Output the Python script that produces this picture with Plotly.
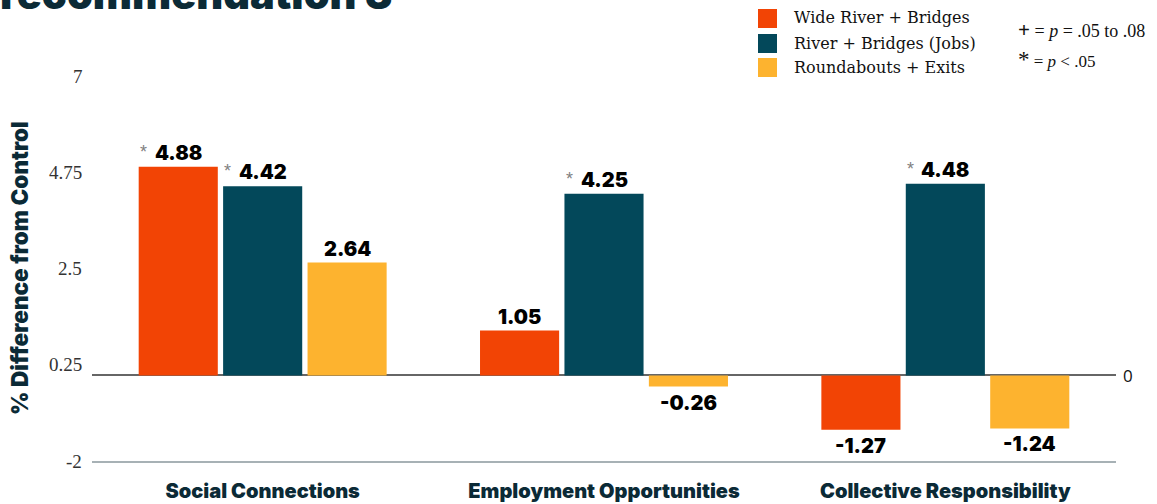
import plotly.graph_objects as go

categories = ["Social Connections", "Employment Opportunities", "Collective Responsibility"]
series_names = ["Wide River + Bridges", "River + Bridges (Jobs)", "Roundabouts + Exits"]
wide_river = [4.88, 1.05, -1.27]
river_jobs = [4.42, 4.25, 4.48]
roundabouts = [2.64, -0.26, -1.24]
stars = [[True, False, False], [True, True, True], [False, False, False]]
colors = ["#F24405", "#03485A", "#FDB32F"]
y_ticks = [-2, 0.25, 2.5, 4.75, 7]

NAVY = "#0B2A36"
BOLD = "Inter"
SERIF = "DejaVu Serif"
TICKSERIF = "Liberation Serif"
TICKSIZE = 19

bargap = 0.258
bargroupgap = 0.063

W, H = 1157, 504
L, R, T, B = 92, 41, 76, 43
pw, ph = W - L - R, H - T - B


def px2paper(px, py):
    return (px - L) / pw, (H - B - py) / ph


def est_width(s, size):
    w = 0.0
    for ch in s:
        if ch == ".":
            w += 0.25 * size
        elif ch == "-":
            w += 0.33 * size
        else:
            w += 0.5 * size
    return w


fig = go.Figure()
all_series = [wide_river, river_jobs, roundabouts]
for name, vals, col in zip(series_names, all_series, colors):
    fig.add_trace(go.Bar(x=categories, y=vals, name=name, marker=dict(color=col, line=dict(width=0)),
                         showlegend=False, hoverinfo="skip"))

slot = (1 - bargap) / 3
annotations = []
for si, vals in enumerate(all_series):
    off = (si - 1) * slot
    for ci, v in enumerate(vals):
        xpos = ci + off
        annotations.append(dict(x=xpos, y=v, xref="x", yref="y", text=f"{v:.2f}", showarrow=False,
                                xanchor="center", yanchor="middle", yshift=14 if v >= 0 else -16,
                                font=dict(family=BOLD, size=20, color="#000000", weight=900)))
        if stars[si][ci]:
            annotations.append(dict(x=xpos, y=v, xref="x", yref="y", text="*", showarrow=False,
                                    xanchor="center", yanchor="middle", xshift=-35, yshift=15,
                                    font=dict(family="Liberation Sans", size=18, color="#808080")))

# y tick labels (right-aligned ~10px left of the plot area)
for t in y_ticks:
    s = "%g" % t
    annotations.append(dict(x=0, y=t, xref="paper", yref="y", text=s, showarrow=False,
                            xanchor="left", yanchor="middle", xshift=-(12 + est_width(s, TICKSIZE)),
                            font=dict(family=TICKSERIF, size=TICKSIZE, color="#333333")))

# zero label on right
annotations.append(dict(x=1, y=0, xref="paper", yref="y", text="0", showarrow=False, xanchor="left",
                        yanchor="middle", xshift=5, font=dict(family="Open Sans", size=17, color="#111111")))

# y title
x, y = px2paper(19, 268)
annotations.append(dict(x=x, y=y, xref="paper", yref="paper", text="% Difference from Control",
                        showarrow=False, textangle=-90, xanchor="center", yanchor="middle",
                        font=dict(family=BOLD, size=22.5, color=NAVY, weight=900)))

# legend (manual)
leg_y = [18, 43, 67]
shapes = []
for i, (name, col) in enumerate(zip(series_names, colors)):
    x0, y0 = px2paper(758, leg_y[i] + 10)
    x1, y1 = px2paper(777, leg_y[i] - 9)
    shapes.append(dict(type="rect", xref="paper", yref="paper", layer="above",
                       x0=x0, x1=x1, y0=y0, y1=y1, fillcolor=col, line=dict(width=0)))
    tx, ty = px2paper(792, leg_y[i])
    annotations.append(dict(text=name, showarrow=False, xanchor="left", yanchor="middle",
                            font=dict(family=SERIF, size=16, color="#111111"), xref="paper", yref="paper",
                            x=tx, y=ty))

# title (cut off at top, as in the reference)
tx, ty = px2paper(-2, 21)
annotations.append(dict(text="recommendation 3", showarrow=False, xanchor="left", yanchor="bottom",
                        font=dict(family=BOLD, size=41.5, color=NAVY, weight=900), xref="paper", yref="paper",
                        x=tx, y=ty))

# significance notes
tx, ty = px2paper(1016, 30)
annotations.append(dict(text="<b><span style='font-size:21px'>+</span></b> = <i>p</i> = .05 to .08",
                        showarrow=False, xanchor="left", yanchor="middle",
                        font=dict(family="Liberation Serif", size=18, color="#111111"),
                        xref="paper", yref="paper", x=tx, y=ty))
tx, ty = px2paper(1016, 60)
annotations.append(dict(text="<span style='font-size:23px'>*</span> = <i>p</i> < .05", showarrow=False,
                        xanchor="left", yanchor="middle",
                        font=dict(family="Liberation Serif", size=17, color="#111111"),
                        xref="paper", yref="paper", x=tx, y=ty))

fig.update_layout(
    width=W, height=H,
    margin=dict(l=L, r=R, t=T, b=B, autoexpand=False),
    paper_bgcolor="white", plot_bgcolor="white",
    barmode="group", bargap=bargap, bargroupgap=bargroupgap,
    showlegend=False,
    annotations=annotations, shapes=shapes,
    xaxis=dict(showgrid=False, showline=True, linecolor="#A7B1B5", linewidth=2, automargin=False,
               tickfont=dict(family=BOLD, size=20, color=NAVY, weight=900),
               ticks="", ticklabelstandoff=11, fixedrange=True),
    yaxis=dict(range=[-2, 7], showticklabels=False, automargin=False,
               showgrid=False, zeroline=True, zerolinecolor="#666666", zerolinewidth=2,
               ticks="", fixedrange=True),
)

fig.write_html(
    "out.html",
    config={"displayModeBar": False, "staticPlot": True},
    post_script=("document.body.style.margin='0';"
                 "document.documentElement.style.overflow='hidden';"
                 "document.body.style.overflow='hidden';"
                 "window.scrollTo(0,0);"),
)
